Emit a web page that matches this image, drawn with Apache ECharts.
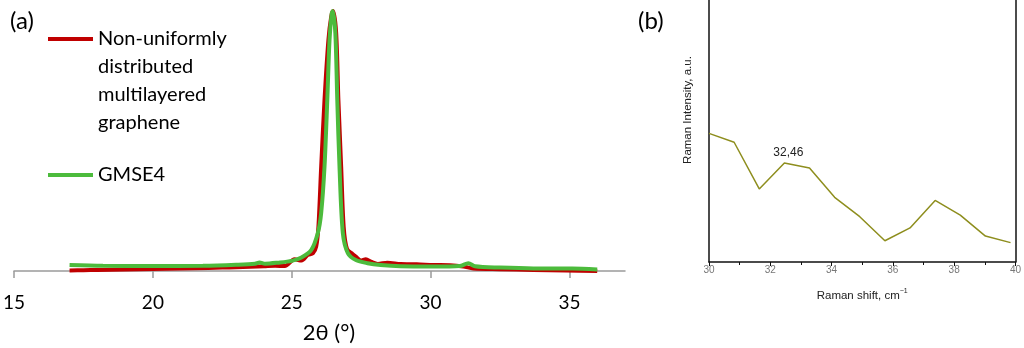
<!DOCTYPE html>
<html>
<head>
<meta charset="utf-8">
<script src="https://cdn.jsdelivr.net/npm/echarts@6/dist/echarts.min.js"></script>
<style>
  html, body { margin: 0; padding: 0; background: #fff; }
  #chart { width: 1024px; height: 348px; }
</style>
</head>
<body>
<div id="chart"></div>
<script>
// XRD patterns, 2θ in degrees vs. normalised intensity (peak = 100)
const xrdTicks = [15, 20, 25, 30, 35];
const graphenePattern = [
  [17, 0.2], [17.5, 0.3], [18, 0.4], [19, 0.6], [20, 0.8], [21, 1.0], [22, 1.2],
  [22.5, 1.3], [23, 1.4], [23.5, 1.6], [24, 1.8], [24.4, 2.0], [24.75, 1.9],
  [25.1, 4.5], [25.35, 4.0], [25.58, 6.2], [25.76, 6.8], [25.88, 9.4], [25.96, 17.0],
  [26.06, 40.1], [26.18, 65.8], [26.32, 88.8], [26.42, 97.8], [26.49, 100],
  [26.6, 91.5], [26.68, 65.8], [26.78, 40.1], [26.87, 17.0], [26.99, 8.5],
  [27.19, 6.5], [27.31, 5.5], [27.49, 4.0], [27.67, 4.5], [27.85, 3.6], [28.1, 2.7],
  [28.44, 3.2], [28.92, 2.7], [29.5, 2.6], [30.1, 2.3], [30.7, 2.2], [31.18, 1.7],
  [31.54, 1.0], [32.49, 0.7], [33.7, 0.4], [34.87, 0.2], [36.0, 0.0]
];
const gmse4Pattern = [
  [17, 2.3], [18.2, 2.0], [20, 1.9], [21.8, 2.0], [23, 2.4], [23.68, 2.8],
  [23.84, 3.3], [24.04, 2.8], [24.5, 3.2], [25.0, 3.9], [25.35, 5.2], [25.7, 8.0],
  [25.94, 14.6], [26.06, 22.3], [26.18, 40.1], [26.28, 65.8], [26.36, 88.8],
  [26.44, 99.1], [26.48, 100], [26.57, 91.5], [26.64, 65.8], [26.72, 40.1],
  [26.84, 14.6], [27.02, 6.9], [27.31, 4.2], [27.73, 3.0], [28.2, 2.3], [28.92, 1.8],
  [30.1, 1.7], [31.05, 1.9], [31.36, 3.0], [31.6, 1.8], [32.49, 1.3], [33.7, 1.0],
  [35.1, 1.0], [36.0, 0.6]
];
const seriesNames = ['Non-uniformly\ndistributed\nmultilayered\ngraphene', 'GMSE4'];

// Raman spectrum (arbitrary units)
const ramanShift = [30, 30.82, 31.64, 32.46, 33.28, 34.10, 34.92, 35.74, 36.56, 37.38, 38.20, 39.02, 39.84];
const ramanIntensity = [49.1, 45.7, 27.9, 37.8, 35.9, 24.7, 17.3, 8.1, 13.0, 23.5, 17.9, 9.9, 7.4];
const labelledShift = 32.46;

const RED = '#C00000';
const GREEN = '#4CBB3C';
const OLIVE = '#8E8E1E';
const CAL = 'Lato, "Open Sans", sans-serif';
const ARIAL = '"Liberation Sans", Arial, sans-serif';

const chart = echarts.init(document.getElementById('chart'), null, { renderer: 'canvas' });

const ramanData = ramanShift.map((x, i) => {
  const item = { value: [x, ramanIntensity[i]] };
  if (x === labelledShift) {
    item.label = {
      show: true, position: 'top', distance: 4, offset: [4, 0],
      fontFamily: ARIAL, fontSize: 12, color: '#222',
      formatter: p => p.value[0].toFixed(2).replace('.', ',')
    };
  }
  return item;
});

chart.setOption({
  animation: false,
  backgroundColor: '#fff',
  grid: [
    { left: 10, top: 11, width: 615, height: 260 },
    { left: 709, top: 0, width: 310, height: 262 }
  ],
  xAxis: [
    {
      gridIndex: 0, type: 'value', min: 15, max: 37,
      axisLine: { lineStyle: { color: '#9a9a9a', width: 1.5 } },
      axisTick: { customValues: xrdTicks, length: 7, lineStyle: { color: '#9a9a9a', width: 1.5 } },
      axisLabel: { customValues: xrdTicks, margin: 22, fontFamily: CAL, fontSize: 19, color: '#000' },
      splitLine: { show: false }
    },
    {
      gridIndex: 1, type: 'value', min: 30, max: 40, interval: 2,
      axisLine: { lineStyle: { color: '#111', width: 1.5 } },
      axisTick: { length: 4, lineStyle: { color: '#111', width: 1 } },
      minorTick: { show: true, splitNumber: 2, length: 3, lineStyle: { color: '#111' } },
      axisLabel: { margin: 3, fontFamily: ARIAL, fontSize: 10, color: '#777' },
      splitLine: { show: false },
      name: 'Raman shift, cm{sup|−1}',
      nameLocation: 'middle', nameGap: 26,
      nameTextStyle: {
        fontFamily: ARIAL, fontSize: 11.5, color: '#222',
        rich: { sup: { fontFamily: ARIAL, fontSize: 7, color: '#222', verticalAlign: 'top', padding: [0, 0, 8, 0] } }
      }
    }
  ],
  yAxis: [
    { gridIndex: 0, type: 'value', min: 0, max: 100, show: false },
    {
      gridIndex: 1, type: 'value', min: 0, max: 100, position: 'left',
      axisLine: { show: true, lineStyle: { color: '#111', width: 1.5 } },
      axisTick: { show: false }, axisLabel: { show: false }, splitLine: { show: false }
    },
    {
      gridIndex: 1, type: 'value', min: 0, max: 100, position: 'right',
      axisLine: { show: true, lineStyle: { color: '#111', width: 1.5 } },
      axisTick: { show: false }, axisLabel: { show: false }, splitLine: { show: false }
    }
  ],
  series: [
    {
      name: seriesNames[0], type: 'line', xAxisIndex: 0, yAxisIndex: 0,
      data: graphenePattern, showSymbol: false, smooth: 0.3,
      lineStyle: { color: RED, width: 4 }, z: 2
    },
    {
      name: seriesNames[1], type: 'line', xAxisIndex: 0, yAxisIndex: 0,
      data: gmse4Pattern, showSymbol: false, smooth: 0.3,
      lineStyle: { color: GREEN, width: 4 }, z: 3
    },
    {
      name: 'Raman', type: 'line', xAxisIndex: 1, yAxisIndex: 1,
      data: ramanData, showSymbol: true, symbol: 'circle', symbolSize: 0,
      itemStyle: { color: OLIVE },
      lineStyle: { color: OLIVE, width: 1.5 }
    }
  ],
  graphic: [
    { type: 'text', left: 10, top: 9, style: { text: '(a)', font: '24px ' + CAL, fill: '#000' } },
    { type: 'text', left: 638, top: 9, style: { text: '(b)', font: '24px ' + CAL, fill: '#000' } },
    // legend of panel (a)
    { type: 'line', shape: { x1: 48, y1: 39, x2: 93, y2: 39 }, style: { stroke: RED, lineWidth: 4 } },
    {
      type: 'text', left: 98, top: 25,
      style: { text: seriesNames[0], font: '20px ' + CAL, lineHeight: 28, fill: '#000' }
    },
    { type: 'line', shape: { x1: 48, y1: 175, x2: 93, y2: 175 }, style: { stroke: GREEN, lineWidth: 4 } },
    {
      type: 'text', left: 98, top: 161,
      style: { text: seriesNames[1], font: '20px ' + CAL, lineHeight: 28, fill: '#000' }
    },
    // axis titles
    {
      type: 'text', x: 329, y: 333,
      style: { text: '2θ (°)', font: '22px ' + CAL, fill: '#000', align: 'center', verticalAlign: 'middle' }
    },
    {
      type: 'text', x: 688, y: 110, rotation: Math.PI / 2,
      style: { text: 'Raman Intensity, a.u.', font: '11.5px ' + ARIAL, fill: '#222', align: 'center', verticalAlign: 'middle' }
    }
  ]
});
</script>
</body>
</html>
